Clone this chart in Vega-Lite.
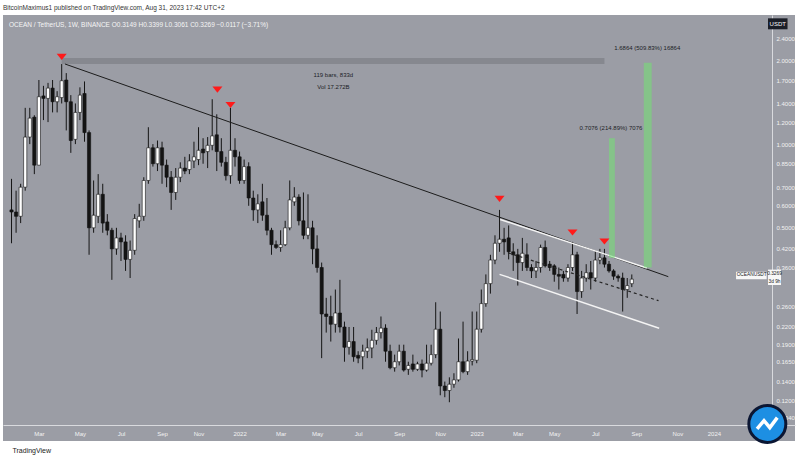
{
 "$schema": "https://vega.github.io/schema/vega-lite/v6.json",
 "width": 792, "height": 426,
 "autosize": {"type": "none"},
 "padding": {"left": 3, "top": 15, "right": 5, "bottom": 19},
 "background": "#ffffff",
 "title": {"text": "BitcoinMaximus1 published on TradingView.com, Aug 31, 2023 17:42 UTC+2", "anchor": "start", "frame": "group", "fontSize": 6.5, "fontWeight": "normal", "color": "#333333", "offset": 4, "font": "Liberation Sans"},
 "datasets": {
  "candles": [
   {"date":"2021-01-18","o":0.58,"h":0.75,"l":0.44,"c":0.57},
   {"date":"2021-01-25","o":0.57,"h":0.68,"l":0.48,"c":0.55},
   {"date":"2021-02-01","o":0.55,"h":0.72,"l":0.52,"c":0.70},
   {"date":"2021-02-08","o":0.70,"h":1.35,"l":0.68,"c":1.06},
   {"date":"2021-02-15","o":1.06,"h":1.35,"l":1.00,"c":1.24},
   {"date":"2021-02-22","o":1.25,"h":1.27,"l":0.78,"c":0.84},
   {"date":"2021-03-01","o":0.84,"h":1.70,"l":0.84,"c":1.48},
   {"date":"2021-03-08","o":1.49,"h":1.62,"l":1.22,"c":1.46},
   {"date":"2021-03-15","o":1.46,"h":1.66,"l":1.20,"c":1.59},
   {"date":"2021-03-22","o":1.59,"h":1.70,"l":1.30,"c":1.42},
   {"date":"2021-03-29","o":1.42,"h":1.55,"l":1.30,"c":1.48},
   {"date":"2021-04-05","o":1.47,"h":1.94,"l":1.40,"c":1.69},
   {"date":"2021-04-12","o":1.70,"h":1.80,"l":1.12,"c":1.42},
   {"date":"2021-04-19","o":1.42,"h":1.50,"l":0.93,"c":1.03},
   {"date":"2021-04-26","o":1.04,"h":1.40,"l":1.00,"c":1.30},
   {"date":"2021-05-03","o":1.30,"h":1.60,"l":1.22,"c":1.50},
   {"date":"2021-05-10","o":1.52,"h":1.68,"l":1.02,"c":1.10},
   {"date":"2021-05-17","o":1.10,"h":1.12,"l":0.40,"c":0.50},
   {"date":"2021-05-24","o":0.50,"h":0.74,"l":0.48,"c":0.555},
   {"date":"2021-05-31","o":0.55,"h":0.78,"l":0.52,"c":0.66},
   {"date":"2021-06-07","o":0.66,"h":0.72,"l":0.48,"c":0.52},
   {"date":"2021-06-14","o":0.525,"h":0.56,"l":0.47,"c":0.49},
   {"date":"2021-06-21","o":0.49,"h":0.50,"l":0.325,"c":0.42},
   {"date":"2021-06-28","o":0.42,"h":0.50,"l":0.40,"c":0.46},
   {"date":"2021-07-05","o":0.46,"h":0.48,"l":0.38,"c":0.445},
   {"date":"2021-07-12","o":0.445,"h":0.47,"l":0.35,"c":0.385},
   {"date":"2021-07-19","o":0.385,"h":0.45,"l":0.33,"c":0.415},
   {"date":"2021-07-26","o":0.415,"h":0.56,"l":0.40,"c":0.54},
   {"date":"2021-08-02","o":0.53,"h":0.61,"l":0.50,"c":0.55},
   {"date":"2021-08-09","o":0.55,"h":0.76,"l":0.53,"c":0.74},
   {"date":"2021-08-16","o":0.74,"h":1.15,"l":0.72,"c":0.97},
   {"date":"2021-08-23","o":0.97,"h":1.00,"l":0.83,"c":0.85},
   {"date":"2021-08-30","o":0.85,"h":1.03,"l":0.80,"c":0.97},
   {"date":"2021-09-06","o":0.97,"h":1.02,"l":0.72,"c":0.84},
   {"date":"2021-09-13","o":0.84,"h":0.88,"l":0.70,"c":0.76},
   {"date":"2021-09-20","o":0.76,"h":0.80,"l":0.58,"c":0.67},
   {"date":"2021-09-27","o":0.67,"h":0.82,"l":0.63,"c":0.76},
   {"date":"2021-10-04","o":0.76,"h":0.86,"l":0.73,"c":0.82},
   {"date":"2021-10-11","o":0.82,"h":0.90,"l":0.78,"c":0.80},
   {"date":"2021-10-18","o":0.81,"h":0.92,"l":0.78,"c":0.87},
   {"date":"2021-10-25","o":0.87,"h":1.02,"l":0.82,"c":0.90},
   {"date":"2021-11-01","o":0.88,"h":1.15,"l":0.84,"c":0.95},
   {"date":"2021-11-08","o":0.96,"h":1.05,"l":0.85,"c":0.93},
   {"date":"2021-11-15","o":0.94,"h":1.06,"l":0.82,"c":0.99},
   {"date":"2021-11-22","o":0.99,"h":1.45,"l":0.95,"c":1.07},
   {"date":"2021-11-29","o":1.08,"h":1.28,"l":0.80,"c":0.94},
   {"date":"2021-12-06","o":0.94,"h":1.05,"l":0.83,"c":0.86},
   {"date":"2021-12-13","o":0.86,"h":0.90,"l":0.74,"c":0.77},
   {"date":"2021-12-20","o":0.77,"h":1.35,"l":0.72,"c":0.95},
   {"date":"2021-12-27","o":0.95,"h":1.05,"l":0.83,"c":0.90},
   {"date":"2022-01-03","o":0.90,"h":0.94,"l":0.72,"c":0.74},
   {"date":"2022-01-10","o":0.74,"h":0.88,"l":0.72,"c":0.83},
   {"date":"2022-01-17","o":0.83,"h":0.86,"l":0.60,"c":0.64},
   {"date":"2022-01-24","o":0.64,"h":0.68,"l":0.53,"c":0.58},
   {"date":"2022-01-31","o":0.58,"h":0.66,"l":0.52,"c":0.61},
   {"date":"2022-02-07","o":0.62,"h":0.72,"l":0.53,"c":0.555},
   {"date":"2022-02-14","o":0.555,"h":0.64,"l":0.47,"c":0.49},
   {"date":"2022-02-21","o":0.49,"h":0.50,"l":0.40,"c":0.435},
   {"date":"2022-02-28","o":0.435,"h":0.45,"l":0.42,"c":0.425},
   {"date":"2022-03-07","o":0.425,"h":0.49,"l":0.41,"c":0.435},
   {"date":"2022-03-14","o":0.435,"h":0.53,"l":0.43,"c":0.50},
   {"date":"2022-03-21","o":0.50,"h":0.74,"l":0.49,"c":0.63},
   {"date":"2022-03-28","o":0.62,"h":0.70,"l":0.60,"c":0.645},
   {"date":"2022-04-04","o":0.645,"h":0.66,"l":0.51,"c":0.53},
   {"date":"2022-04-11","o":0.53,"h":0.67,"l":0.455,"c":0.47},
   {"date":"2022-04-18","o":0.47,"h":0.66,"l":0.455,"c":0.50},
   {"date":"2022-04-25","o":0.50,"h":0.53,"l":0.37,"c":0.42},
   {"date":"2022-05-02","o":0.42,"h":0.47,"l":0.345,"c":0.36},
   {"date":"2022-05-09","o":0.36,"h":0.375,"l":0.17,"c":0.245},
   {"date":"2022-05-16","o":0.245,"h":0.28,"l":0.21,"c":0.24},
   {"date":"2022-05-23","o":0.24,"h":0.285,"l":0.195,"c":0.225},
   {"date":"2022-05-30","o":0.225,"h":0.30,"l":0.21,"c":0.247},
   {"date":"2022-06-06","o":0.247,"h":0.325,"l":0.21,"c":0.22},
   {"date":"2022-06-13","o":0.22,"h":0.23,"l":0.165,"c":0.186},
   {"date":"2022-06-20","o":0.186,"h":0.22,"l":0.175,"c":0.195},
   {"date":"2022-06-27","o":0.195,"h":0.22,"l":0.165,"c":0.172},
   {"date":"2022-07-04","o":0.174,"h":0.18,"l":0.163,"c":0.17},
   {"date":"2022-07-11","o":0.172,"h":0.19,"l":0.155,"c":0.18},
   {"date":"2022-07-18","o":0.18,"h":0.20,"l":0.17,"c":0.185},
   {"date":"2022-07-25","o":0.185,"h":0.215,"l":0.17,"c":0.197},
   {"date":"2022-08-01","o":0.197,"h":0.22,"l":0.19,"c":0.21},
   {"date":"2022-08-08","o":0.21,"h":0.24,"l":0.20,"c":0.218},
   {"date":"2022-08-15","o":0.218,"h":0.225,"l":0.165,"c":0.18},
   {"date":"2022-08-22","o":0.18,"h":0.19,"l":0.155,"c":0.157},
   {"date":"2022-08-29","o":0.157,"h":0.175,"l":0.152,"c":0.165},
   {"date":"2022-09-05","o":0.165,"h":0.19,"l":0.16,"c":0.18},
   {"date":"2022-09-12","o":0.18,"h":0.19,"l":0.152,"c":0.154},
   {"date":"2022-09-19","o":0.155,"h":0.165,"l":0.148,"c":0.16},
   {"date":"2022-09-26","o":0.162,"h":0.175,"l":0.152,"c":0.155},
   {"date":"2022-10-03","o":0.155,"h":0.165,"l":0.153,"c":0.162},
   {"date":"2022-10-10","o":0.162,"h":0.168,"l":0.145,"c":0.154},
   {"date":"2022-10-17","o":0.154,"h":0.19,"l":0.152,"c":0.163},
   {"date":"2022-10-24","o":0.163,"h":0.19,"l":0.16,"c":0.175},
   {"date":"2022-10-31","o":0.175,"h":0.27,"l":0.17,"c":0.216},
   {"date":"2022-11-07","o":0.216,"h":0.25,"l":0.125,"c":0.135},
   {"date":"2022-11-14","o":0.135,"h":0.14,"l":0.123,"c":0.13},
   {"date":"2022-11-21","o":0.13,"h":0.145,"l":0.118,"c":0.137},
   {"date":"2022-11-28","o":0.137,"h":0.15,"l":0.133,"c":0.142},
   {"date":"2022-12-05","o":0.142,"h":0.20,"l":0.14,"c":0.165},
   {"date":"2022-12-12","o":0.165,"h":0.23,"l":0.15,"c":0.152},
   {"date":"2022-12-19","o":0.152,"h":0.18,"l":0.148,"c":0.166},
   {"date":"2022-12-26","o":0.166,"h":0.25,"l":0.16,"c":0.168},
   {"date":"2023-01-02","o":0.167,"h":0.25,"l":0.163,"c":0.216},
   {"date":"2023-01-09","o":0.216,"h":0.30,"l":0.21,"c":0.267},
   {"date":"2023-01-16","o":0.267,"h":0.34,"l":0.26,"c":0.315},
   {"date":"2023-01-23","o":0.315,"h":0.40,"l":0.29,"c":0.383},
   {"date":"2023-01-30","o":0.383,"h":0.47,"l":0.37,"c":0.44},
   {"date":"2023-02-06","o":0.44,"h":0.58,"l":0.41,"c":0.455},
   {"date":"2023-02-13","o":0.455,"h":0.50,"l":0.40,"c":0.445},
   {"date":"2023-02-20","o":0.46,"h":0.51,"l":0.385,"c":0.41},
   {"date":"2023-02-27","o":0.41,"h":0.44,"l":0.35,"c":0.40},
   {"date":"2023-03-06","o":0.40,"h":0.42,"l":0.31,"c":0.375},
   {"date":"2023-03-13","o":0.375,"h":0.46,"l":0.35,"c":0.405},
   {"date":"2023-03-20","o":0.40,"h":0.44,"l":0.35,"c":0.36},
   {"date":"2023-03-27","o":0.36,"h":0.37,"l":0.33,"c":0.35},
   {"date":"2023-04-03","o":0.35,"h":0.38,"l":0.33,"c":0.36},
   {"date":"2023-04-10","o":0.36,"h":0.435,"l":0.345,"c":0.425},
   {"date":"2023-04-17","o":0.425,"h":0.45,"l":0.36,"c":0.365},
   {"date":"2023-04-24","o":0.37,"h":0.38,"l":0.35,"c":0.36},
   {"date":"2023-05-01","o":0.365,"h":0.37,"l":0.32,"c":0.34},
   {"date":"2023-05-08","o":0.34,"h":0.36,"l":0.30,"c":0.335},
   {"date":"2023-05-15","o":0.34,"h":0.35,"l":0.32,"c":0.33},
   {"date":"2023-05-22","o":0.33,"h":0.37,"l":0.32,"c":0.36},
   {"date":"2023-05-29","o":0.36,"h":0.445,"l":0.35,"c":0.40},
   {"date":"2023-06-05","o":0.40,"h":0.41,"l":0.245,"c":0.295},
   {"date":"2023-06-12","o":0.295,"h":0.35,"l":0.28,"c":0.33},
   {"date":"2023-06-19","o":0.33,"h":0.37,"l":0.32,"c":0.345},
   {"date":"2023-06-26","o":0.345,"h":0.38,"l":0.30,"c":0.33},
   {"date":"2023-07-03","o":0.33,"h":0.41,"l":0.32,"c":0.383},
   {"date":"2023-07-10","o":0.383,"h":0.42,"l":0.37,"c":0.39},
   {"date":"2023-07-17","o":0.39,"h":0.42,"l":0.36,"c":0.37},
   {"date":"2023-07-24","o":0.37,"h":0.38,"l":0.345,"c":0.35},
   {"date":"2023-07-31","o":0.35,"h":0.355,"l":0.325,"c":0.335},
   {"date":"2023-08-07","o":0.335,"h":0.34,"l":0.32,"c":0.33},
   {"date":"2023-08-14","o":0.33,"h":0.345,"l":0.25,"c":0.30},
   {"date":"2023-08-21","o":0.30,"h":0.33,"l":0.28,"c":0.31},
   {"date":"2023-08-28","o":0.3149,"h":0.3399,"l":0.3061,"c":0.3269}
  ],
  "arrows": [
   {"date":"2021-04-05","price":2.06},
   {"date":"2021-11-30","price":1.569},
   {"date":"2021-12-20","price":1.382},
   {"date":"2023-02-06","price":0.635},
   {"date":"2023-05-29","price":0.481},
   {"date":"2023-07-17","price":0.4465}
  ],
  "lines": [
   {"line":"trend","date":"2021-04-10","price":1.941},
   {"line":"trend","date":"2023-10-23","price":0.3337},
   {"line":"upper","date":"2023-02-07","price":0.5357},
   {"line":"upper","date":"2023-09-20","price":0.3586},
   {"line":"lower","date":"2023-02-06","price":0.3403},
   {"line":"lower","date":"2023-10-09","price":0.2177},
   {"line":"mid","date":"2023-02-19","price":0.4063},
   {"line":"mid","date":"2023-10-08","price":0.2735}
  ],
  "boxes": [
   {"kind":"range","date":"2021-04-05","date2":"2023-07-17","price":2.04,"price2":1.94},
   {"kind":"green","date":"2023-07-24","date2":"2023-08-02","price":1.05,"price2":0.39},
   {"kind":"green","date":"2023-09-15T10:00:00Z","date2":"2023-09-27T12:00:00Z","price":1.96,"price2":0.36},
   {"kind":"dark","date":"2024-03-24","date2":"2024-04-23","price":2.833,"price2":2.587},
   {"kind":"white","date":"2024-02-04","date2":"2024-03-22","price":0.3477,"price2":0.3265},
   {"kind":"white","date":"2024-03-24","date2":"2024-04-13","price":0.3538,"price2":0.3115}
  ],
  "texts": [
   {"kind":"info","date":"2022-05-27","price":1.765,"text":"119 bars, 833d"},
   {"kind":"info","date":"2022-05-27","price":1.598,"text":"Vol 17.272B"},
   {"kind":"dark","date":"2023-07-27","price":1.14,"text":"0.7076 (214.89%) 7076"},
   {"kind":"dark","date":"2023-09-20T17:00:00Z","price":2.21,"text":"1.6864 (509.83%) 16864"},
   {"kind":"light","date":"2024-04-08","price":2.707,"text":"USDT"}
  ],
  "tags": [
   {"kind":"dark","date":"2024-02-28","price":0.337,"text":"OCEANUSDT"},
   {"kind":"dark","date":"2024-04-03","price":0.3405,"text":"0.3269"},
   {"kind":"dark","date":"2024-04-03","price":0.3200,"text":"3d 9h"}
  ],
  "header": [
   {"date":"2021-01-14","price":2.68,"text":"OCEAN / TetherUS, 1W, BINANCE  O0.3149  H0.3399  L0.3061  C0.3269  −0.0117 (−3.71%)"}
  ],
  "logo": [
   {"date":"2024-03-23","price":0.0986}
  ]
 },
 "encoding": {
  "x": {"field": "date", "type": "temporal",
   "scale": {"type": "utc", "domain": [{"year": 2021, "month": 1, "date": 12, "hours": 14, "utc": true}, {"year": 2024, "month": 4, "date": 26, "hours": 19, "utc": true}]},
   "axis": {"orient": "bottom", "offset": -16,
    "values": [
     {"year":2021,"month":3,"date":1,"utc":true},{"year":2021,"month":5,"date":3,"utc":true},{"year":2021,"month":7,"date":5,"utc":true},{"year":2021,"month":9,"date":6,"utc":true},{"year":2021,"month":11,"date":1,"utc":true},
     {"year":2022,"month":1,"date":3,"utc":true},{"year":2022,"month":3,"date":7,"utc":true},{"year":2022,"month":5,"date":2,"utc":true},{"year":2022,"month":7,"date":4,"utc":true},{"year":2022,"month":9,"date":5,"utc":true},{"year":2022,"month":11,"date":7,"utc":true},
     {"year":2023,"month":1,"date":2,"utc":true},{"year":2023,"month":3,"date":6,"utc":true},{"year":2023,"month":5,"date":1,"utc":true},{"year":2023,"month":7,"date":3,"utc":true},{"year":2023,"month":9,"date":4,"utc":true},{"year":2023,"month":11,"date":6,"utc":true},
     {"year":2024,"month":1,"date":1,"utc":true}],
    "labelExpr": "utcFormat(datum.value, '%m') == '01' ? utcFormat(datum.value, '%Y') : utcFormat(datum.value, '%b')",
    "ticks": false, "grid": false, "domainColor": "#d9dade", "domainWidth": 1,
    "labelColor": "#f2f2f2", "labelFontSize": 6, "labelPadding": 5, "labelFont": "Liberation Sans", "labelOverlap": false,
    "title": "TradingView", "titleAnchor": "start", "titleAlign": "left", "titleX": 9, "titleY": 27, "titleBaseline": "alphabetic",
    "titleFontSize": 7, "titleFontWeight": "normal", "titleColor": "#222222", "titleFont": "Liberation Sans"}
  },
  "y": {"field": "price", "type": "quantitative", "scale": {"type": "log", "domain": [0.0856, 2.912], "nice": false},
   "axis": {"orient": "right", "offset": -23, "title": null, "format": ".4f",
    "values": [2.4, 2.0, 1.7, 1.4, 1.2, 1.0, 0.85, 0.7, 0.6, 0.5, 0.42, 0.36, 0.26, 0.22, 0.19, 0.165, 0.14, 0.12, 0.104],
    "ticks": false, "grid": false, "domainColor": "#d9dade", "domainWidth": 1,
    "labelColor": "#f2f2f2", "labelFontSize": 6, "labelPadding": 4, "labelFont": "Liberation Sans", "labelOverlap": false}}
 },
 "layer": [
  {"data": {"name": "boxes"}, "transform": [{"filter": "datum.kind == 'range'"}],
   "mark": {"type": "rect", "color": "#86888f"},
   "encoding": {"x2": {"field": "date2"}, "y2": {"field": "price2"}}},
  {"data": {"name": "candles"},
   "mark": {"type": "rule", "color": "#151515", "strokeWidth": 1},
   "encoding": {"y": {"field": "l", "type": "quantitative", "scale": {"type": "log", "domain": [0.0856, 2.912], "nice": false},
     "axis": {"orient": "right", "offset": -23, "title": null, "format": ".4f",
      "values": [2.4, 2.0, 1.7, 1.4, 1.2, 1.0, 0.85, 0.7, 0.6, 0.5, 0.42, 0.36, 0.26, 0.22, 0.19, 0.165, 0.14, 0.12, 0.104],
      "ticks": false, "grid": false, "domainColor": "#d9dade", "domainWidth": 1,
      "labelColor": "#f2f2f2", "labelFontSize": 6, "labelPadding": 4, "labelFont": "Liberation Sans", "labelOverlap": false}},
    "y2": {"field": "h"}}},
  {"data": {"name": "candles"},
   "mark": {"type": "bar", "size": 3.2, "stroke": "#111111", "strokeWidth": 0.6},
   "encoding": {"y": {"field": "o", "type": "quantitative", "scale": {"type": "log", "domain": [0.0856, 2.912], "nice": false},
     "axis": {"orient": "right", "offset": -23, "title": null, "format": ".4f",
      "values": [2.4, 2.0, 1.7, 1.4, 1.2, 1.0, 0.85, 0.7, 0.6, 0.5, 0.42, 0.36, 0.26, 0.22, 0.19, 0.165, 0.14, 0.12, 0.104],
      "ticks": false, "grid": false, "domainColor": "#d9dade", "domainWidth": 1,
      "labelColor": "#f2f2f2", "labelFontSize": 6, "labelPadding": 4, "labelFont": "Liberation Sans", "labelOverlap": false}},
    "y2": {"field": "c"},
    "fill": {"condition": {"test": "datum.c >= datum.o", "value": "#ffffff"}, "value": "#141414"}}},
  {"data": {"name": "lines"}, "transform": [{"filter": "datum.line == 'trend'"}],
   "mark": {"type": "line", "color": "#1c1c1c", "strokeWidth": 1}},
  {"data": {"name": "lines"}, "transform": [{"filter": "datum.line == 'upper' || datum.line == 'lower'"}],
   "mark": {"type": "line", "color": "#f4f4f4", "strokeWidth": 1.4},
   "encoding": {"detail": {"field": "line"}}},
  {"data": {"name": "lines"}, "transform": [{"filter": "datum.line == 'mid'"}],
   "mark": {"type": "line", "color": "#262626", "strokeWidth": 1.2, "strokeDash": [3, 3]}},
  {"data": {"name": "boxes"}, "transform": [{"filter": "datum.kind == 'green'"}],
   "mark": {"type": "rect", "color": "rgba(115,225,115,0.55)"},
   "encoding": {"x2": {"field": "date2"}, "y2": {"field": "price2"}}},
  {"data": {"name": "arrows"},
   "mark": {"type": "point", "shape": "M-1,-0.62L1,-0.62L0,0.62Z", "size": 100, "filled": true, "color": "#ff1a1a", "opacity": 1}},
  {"data": {"name": "boxes"}, "transform": [{"filter": "datum.kind == 'dark' || datum.kind == 'white'"}],
   "mark": {"type": "rect"},
   "encoding": {"x2": {"field": "date2"}, "y2": {"field": "price2"},
    "color": {"field": "kind", "type": "nominal", "scale": {"domain": ["dark", "white"], "range": ["#1b1e27", "#f7f7f7"]}, "legend": null}}},
  {"data": {"name": "header"},
   "mark": {"type": "text", "align": "left", "baseline": "middle", "fontSize": 6.5, "color": "#f5f5f5", "font": "Liberation Sans"},
   "encoding": {"text": {"field": "text"}}},
  {"data": {"name": "texts"},
   "mark": {"type": "text", "align": "center", "baseline": "middle", "fontSize": 6, "font": "Liberation Sans"},
   "encoding": {"text": {"field": "text"},
    "color": {"field": "kind", "type": "nominal", "scale": {"domain": ["info", "dark", "light"], "range": ["#e9e9ec", "#18191d", "#ffffff"]}, "legend": null}}},
  {"data": {"name": "tags"},
   "mark": {"type": "text", "align": "center", "baseline": "middle", "fontSize": 4.8, "font": "Liberation Sans", "color": "#18191d"},
   "encoding": {"text": {"field": "text"}}},
  {"data": {"name": "logo"},
   "mark": {"type": "point", "shape": "circle", "size": 1369, "filled": true, "fill": "#1d8fe3", "stroke": "#0b1633", "strokeWidth": 3, "opacity": 1}},
  {"data": {"name": "logo"},
   "mark": {"type": "point", "shape": "M-0.62,0.3L-0.2,-0.2L0.15,0.22L0.6,-0.38", "size": 1100, "filled": false, "stroke": "#ffffff", "strokeWidth": 3.5, "opacity": 1}}
 ],
 "config": {"view": {"stroke": null, "fill": "#9b9da5"}, "font": "Liberation Sans"}
}
